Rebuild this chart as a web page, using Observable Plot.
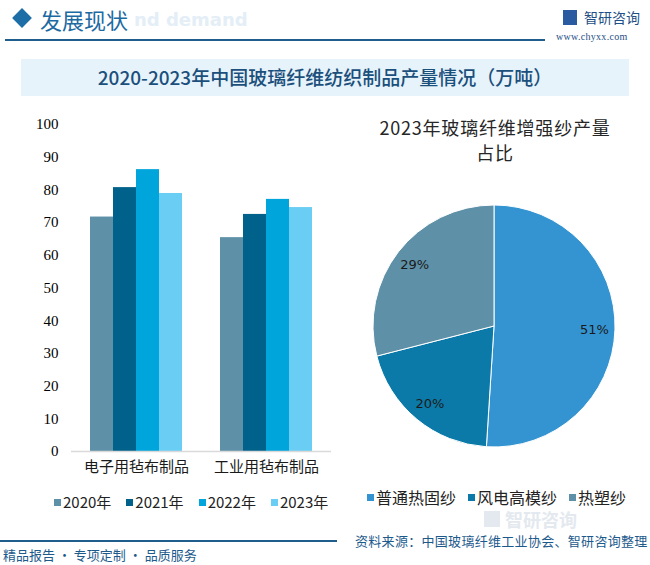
<!DOCTYPE html>
<html><head><meta charset="utf-8">
<script src="https://cdn.jsdelivr.net/npm/d3@7"></script>
<script src="https://cdn.jsdelivr.net/npm/@observablehq/plot@0.6"></script>
<style>
body{margin:0;width:650px;height:565px;position:relative;overflow:hidden;background:#fff;font-family:"Noto Sans CJK SC","Noto Sans",sans-serif;}
.abs{position:absolute;white-space:nowrap;}
#bar [aria-label^="fx-axis"] text{font-size:15px;font-family:"Noto Sans CJK SC",sans-serif;fill:#1a1a1a;}
#bar [aria-label^="y-axis"] text{font-size:15px;font-family:"Liberation Serif",serif;fill:#000;}
.lgb-swatches,.lgp-swatches{margin:0 !important;min-height:0 !important;line-height:20px !important;}
.lgb-swatch{margin-right:15px !important;}
.lgb-swatch svg{margin-right:2px !important;}
.lgp-swatch{margin-right:12px !important;}
.lgp-swatch svg{margin-right:2px !important;}
</style></head><body>
<script>
// ---- data ----
const categories = ["电子用毡布制品", "工业用毡布制品"];
const years = ["2020年", "2021年", "2022年", "2023年"];
const v2020 = [71.7, 65.4];
const v2021 = [80.7, 72.5];
const v2022 = [86.2, 77.1];
const v2023 = [78.9, 74.6];
const yTicks = [0, 10, 20, 30, 40, 50, 60, 70, 80, 90, 100];
const yearColors = ["#5e91a8", "#00618a", "#00a5dc", "#6acef4"];

const pieLabels = ["普通热固纱", "风电高模纱", "热塑纱"];
const pieValues = [51, 20, 29];
const pieColors = ["#3494d1", "#0c7aa8", "#5e91a8"];

// ---- static text / layout ----
function addDiv(html, style) {
  const d = document.createElement("div");
  d.className = "abs";
  d.innerHTML = html;
  Object.assign(d.style, style);
  document.body.appendChild(d);
  return d;
}
// header
addDiv("nd demand", {left:"134px", top:"9px", fontSize:"18px", fontWeight:"bold", color:"#e4eef7", fontFamily:"'DejaVu Sans',sans-serif"});
addDiv("", {left:"15px", top:"11px", width:"14px", height:"14px", background:"#1d6ea6", transform:"rotate(45deg)"});
addDiv("发展现状", {left:"40px", top:"4px", fontSize:"22px", color:"#1d6aa2", lineHeight:"30px"});
addDiv("", {left:"5px", top:"39px", width:"540px", height:"2px", background:"#1f5d8c"});
addDiv("", {left:"563px", top:"10px", width:"14px", height:"15px", background:"#2a5aa0"});
addDiv("智研咨询", {left:"584px", top:"7px", fontSize:"14px", color:"#1e4f86", lineHeight:"20px"});
addDiv("www.chyxx.com", {left:"556px", top:"31px", fontSize:"10px", color:"#1e4f86", fontFamily:"'Liberation Serif',serif", letterSpacing:"0.3px"});
// title box
addDiv("", {left:"21px", top:"59px", width:"608px", height:"37px", background:"#e6f3fb"});
addDiv("2020-2023年中国玻璃纤维纺织制品产量情况（万吨）", {left:"0px", width:"650px", top:"63px", textAlign:"center", fontSize:"19px", fontWeight:"500", color:"#1b4f7c", lineHeight:"28px"});
// watermark bottom right
addDiv("智研咨询", {left:"505px", top:"510px", fontSize:"18px", color:"#e3e9ef", fontWeight:"bold", lineHeight:"19px"});
addDiv("", {left:"484px", top:"511px", width:"16px", height:"16px", background:"#e3e9ef"});
// pie title
addDiv("2023年玻璃纤维增强纱产量<br>占比", {left:"345px", width:"300px", top:"115px", textAlign:"center", fontSize:"18px", color:"#262626", lineHeight:"25px", letterSpacing:"0.8px"});
// footer
addDiv("", {left:"0px", top:"540px", width:"337px", height:"2px", background:"#1f5d8c"});
addDiv("资料来源：中国玻璃纤维工业协会、智研咨询整理", {left:"355px", top:"532px", fontSize:"13px", color:"#1d5a8c", lineHeight:"18px", letterSpacing:"0.3px"});
addDiv("精品报告 · 专项定制 · 品质服务", {left:"3px", top:"546px", fontSize:"13px", color:"#1d5a8c", lineHeight:"18px"});

// ---- bar chart ----
const series = [v2020, v2021, v2022, v2023];
const barData = categories.flatMap((c, i) => years.map((y, j) => ({cat: c, year: y, value: series[j][i]})));
const bar = Plot.plot({
  width: 340, height: 380,
  marginLeft: 70, marginRight: 8, marginTop: 19, marginBottom: 34,
  style: {background: "transparent", color: "#1a1a1a", fontSize: "15px"},
  facet: {data: barData, x: "cat", label: null},
  fx: {domain: categories, paddingInner: 0.277, paddingOuter: 0.146, axis: "bottom", tickSize: 0, tickPadding: 10, label: null},
  x: {domain: years, padding: 0, axis: null},
  y: {domain: [0, 100], ticks: yTicks, tickSize: 0, tickPadding: 31, label: null},
  color: {domain: years, range: yearColors},
  marks: [
    Plot.barY(barData, {x: "year", y: "value", fill: "year"}),
    Plot.ruleY([0], {stroke: "#d9d9d9", strokeWidth: 1.5, insetLeft: -18, insetRight: -18})
  ]
});
const barWrap = addDiv("", {left: "0px", top: "105px"});
barWrap.id = "bar";
barWrap.appendChild(bar);

const legB = Plot.legend({color: {domain: years, range: yearColors}, className: "lgb", swatchSize: 7,
  style: {fontSize: "15px", color: "#222", fontFamily: "'Noto Sans CJK SC',sans-serif"}});
const legBWrap = addDiv("", {left: "54px", top: "492px"});
legBWrap.appendChild(legB);

// ---- pie chart ----
const pieData = pieLabels.map((l, i) => ({label: l, value: pieValues[i]}));
const pieColor = d3.scaleOrdinal(pieLabels, pieColors);
function pieMark(data) {
  return (index, scales, values, dims) => {
    const {width, height, marginLeft, marginRight, marginTop, marginBottom} = dims;
    const iw = width - marginLeft - marginRight, ih = height - marginTop - marginBottom;
    const cx = marginLeft + iw / 2, cy = marginTop + ih / 2;
    const r = Math.min(iw, ih) / 2;
    const arcs = d3.pie().sort(null).value(d => d.value)(data);
    const g = d3.create("svg:g").attr("transform", `translate(${cx},${cy})`);
    g.selectAll("path").data(arcs).join("path")
      .attr("d", d3.arc().innerRadius(0).outerRadius(r))
      .attr("fill", d => pieColor(d.data.label))
      .attr("stroke", "#fff").attr("stroke-width", 1);
    const la = d3.arc().innerRadius(r * 0.83).outerRadius(r * 0.83);
    g.selectAll("text").data(arcs).join("text")
      .attr("transform", d => `translate(${la.centroid(d)})`)
      .attr("text-anchor", "middle").attr("dy", "0.35em")
      .attr("font-size", 13).attr("fill", "#1a1a1a")
      .attr("font-family", "'DejaVu Sans',sans-serif")
      .text(d => d.data.value + "%");
    return g.node();
  };
}
const pie = Plot.plot({
  width: 310, height: 290,
  marginLeft: 33, marginRight: 35, marginTop: 35, marginBottom: 13,
  style: {background: "transparent"},
  marks: [pieMark(pieData)]
});
const pieWrap = addDiv("", {left: "340px", top: "170px"});
pieWrap.appendChild(pie);

const legP = Plot.legend({color: {domain: pieLabels, range: pieColors}, className: "lgp", swatchSize: 7,
  style: {fontSize: "16px", color: "#222", fontFamily: "'Noto Sans CJK SC',sans-serif"}});
const legPWrap = addDiv("", {left: "367px", top: "487px"});
legPWrap.appendChild(legP);
</script>
</body></html>
